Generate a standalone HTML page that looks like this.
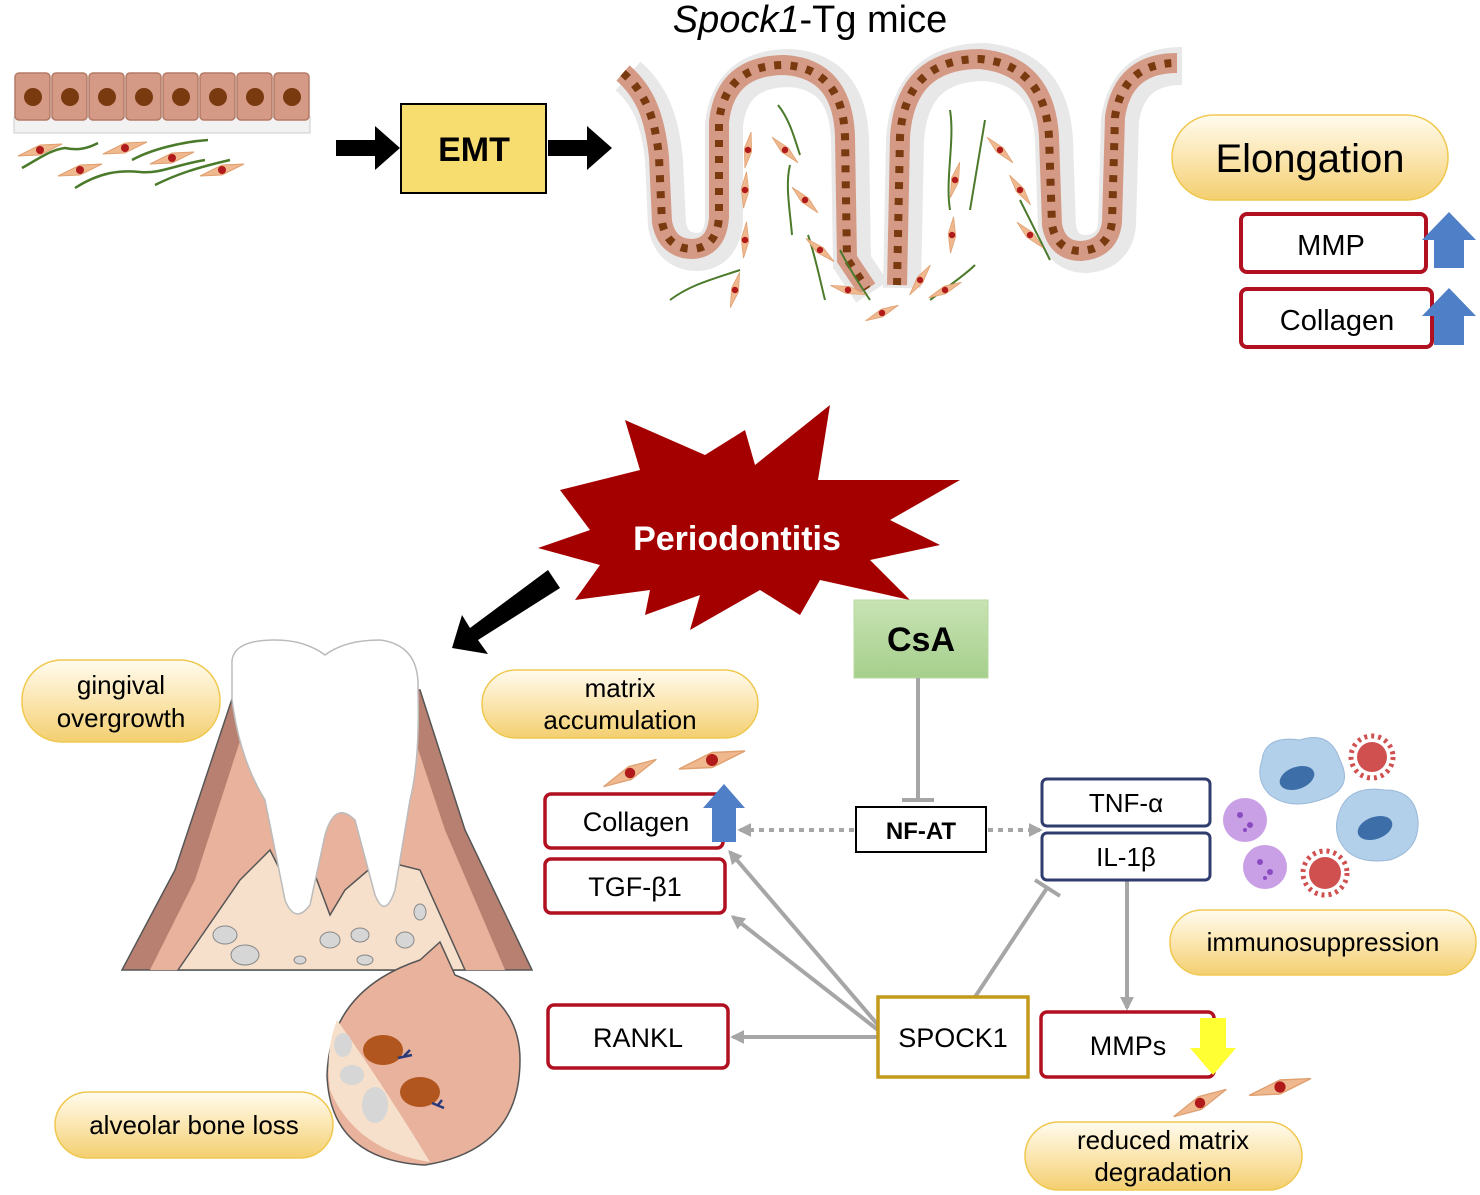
<!DOCTYPE html>
<html><head><meta charset="utf-8"><style>
body{margin:0;background:#fff;}
svg{display:block;font-family:"Liberation Sans",Arial,sans-serif;}
</style></head><body>
<svg width="1480" height="1195" viewBox="0 0 1480 1195" xmlns="http://www.w3.org/2000/svg">
<defs>
<linearGradient id="pill" x1="0" y1="0" x2="0" y2="1">
<stop offset="0" stop-color="#fffbee"/><stop offset="0.5" stop-color="#fbe6b0"/><stop offset="1" stop-color="#f3cf70"/>
</linearGradient>
<linearGradient id="green" x1="0" y1="0" x2="0" y2="1">
<stop offset="0" stop-color="#c8e3b4"/><stop offset="1" stop-color="#a6cf8c"/>
</linearGradient>
<marker id="ga2" viewBox="0 0 10 10" markerWidth="14" markerHeight="14" refX="8" refY="5" orient="auto" markerUnits="userSpaceOnUse"><path d="M0,0 L10,5 L0,10 Z" fill="#a6a6a6"/></marker>
<g id="fib"><path d="M-22,6 L0,-5 L22,-6 L0,5 Z" fill="#f0b88f" stroke="#e0a070" stroke-width="1"/><circle cx="0" cy="0" r="4" fill="#b01a1a"/></g>
</defs>

<text x="810" y="32" font-size="38" text-anchor="middle"><tspan font-style="italic">Spock1</tspan>-Tg mice</text>

<g>
<rect x="14" y="117" width="296" height="16" fill="#f2f2f2" stroke="#ccc"/>
<g fill="#d49a86" stroke="#b47a66" stroke-width="1.5">
<rect x="15" y="73" width="35" height="47" rx="4"/><rect x="52" y="73" width="35" height="47" rx="4"/>
<rect x="89" y="73" width="35" height="47" rx="4"/><rect x="126" y="73" width="35" height="47" rx="4"/>
<rect x="163" y="73" width="35" height="47" rx="4"/><rect x="200" y="73" width="35" height="47" rx="4"/>
<rect x="237" y="73" width="35" height="47" rx="4"/><rect x="274" y="73" width="35" height="47" rx="4"/>
</g>
<g fill="#7a3a10">
<circle cx="33" cy="97" r="9"/><circle cx="70" cy="97" r="9"/><circle cx="107" cy="97" r="9"/><circle cx="144" cy="97" r="9"/>
<circle cx="181" cy="97" r="9"/><circle cx="218" cy="97" r="9"/><circle cx="255" cy="97" r="9"/><circle cx="292" cy="97" r="9"/>
</g>
<g fill="none" stroke="#4a7a2a" stroke-width="2.5">
<path d="M22,168 C40,158 50,150 65,148 C75,150 85,150 98,143"/>
<path d="M75,188 C100,172 120,170 140,172 C160,174 175,165 205,160"/>
<path d="M132,160 C150,150 180,142 208,140"/>
<path d="M155,185 C175,175 195,168 230,160"/>
</g>
<use href="#fib" x="40" y="150"/><use href="#fib" x="125" y="148"/><use href="#fib" x="172" y="158"/>
<use href="#fib" x="80" y="170"/><use href="#fib" x="222" y="170"/>
</g>

<path d="M336,140 L375,140 L375,126 L400,148 L375,170 L375,156 L336,156 Z" fill="#000"/>
<path d="M548,140 L587,140 L587,126 L612,148 L587,170 L587,156 L548,156 Z" fill="#000"/>
<rect x="401" y="104" width="145" height="89" fill="#f7dc6f" stroke="#000" stroke-width="2"/>
<text x="474" y="161" font-size="34" font-weight="bold" text-anchor="middle">EMT</text>

<g fill="none" stroke-linecap="round" stroke-linejoin="round">
<path id="w1" d="M628,76 C650,95 660,120 664,160 L667,225 Q672,252 698,252 Q722,250 724,220 L724,125 Q730,68 790,68 Q848,72 850,140 L852,262 L872,292"/>
<path id="w2" d="M902,288 L905,140 Q910,62 985,62 Q1050,68 1054,140 L1057,228 Q1062,254 1086,254 Q1114,252 1117,225 L1120,120 Q1128,66 1182,66"/>
</g>
<g fill="none" stroke="#e8e8e8" stroke-width="38"><use href="#w1"/><use href="#w2"/></g>
<g fill="none" stroke="#d49a86" stroke-width="20" transform="translate(-5,-3)"><use href="#w1"/><use href="#w2"/></g>
<g fill="none" stroke="#7a3a10" stroke-width="8" stroke-dasharray="7 9" transform="translate(-5,-3)"><use href="#w1"/><use href="#w2"/></g>
<g fill="none" stroke="#4a7a2a" stroke-width="2">
<path d="M778,105 C790,120 795,140 800,155"/><path d="M790,165 C785,185 790,210 792,235"/>
<path d="M670,300 C690,285 710,280 740,270"/><path d="M808,235 C815,255 820,280 825,300"/>
<path d="M950,110 C955,140 945,180 950,210"/><path d="M985,120 C980,150 975,180 970,210"/>
<path d="M1020,200 C1030,220 1040,240 1050,260"/><path d="M930,300 C950,285 965,275 975,265"/>
<path d="M840,250 C850,270 860,285 870,300"/>
</g>
<use href="#fib" transform="translate(748,150) rotate(-65) scale(0.8)"/><use href="#fib" transform="translate(745,190) rotate(-70) scale(0.8)"/>
<use href="#fib" transform="translate(745,240) rotate(-70) scale(0.8)"/><use href="#fib" transform="translate(735,290) rotate(-60) scale(0.8)"/>
<use href="#fib" transform="translate(785,150) rotate(60) scale(0.8)"/><use href="#fib" transform="translate(805,200) rotate(60) scale(0.8)"/>
<use href="#fib" transform="translate(820,250) rotate(55) scale(0.8)"/><use href="#fib" transform="translate(848,290) rotate(30) scale(0.8)"/>
<use href="#fib" transform="translate(882,313) rotate(-10) scale(0.8)"/><use href="#fib" transform="translate(955,180) rotate(-60) scale(0.8)"/>
<use href="#fib" transform="translate(952,235) rotate(-70) scale(0.8)"/><use href="#fib" transform="translate(920,280) rotate(-40) scale(0.8)"/>
<use href="#fib" transform="translate(1000,150) rotate(60) scale(0.8)"/><use href="#fib" transform="translate(1020,190) rotate(70) scale(0.8)"/>
<use href="#fib" transform="translate(1030,235) rotate(60) scale(0.8)"/><use href="#fib" transform="translate(945,290) rotate(-10) scale(0.8)"/>

<rect x="1172" y="115" width="276" height="85" rx="42" fill="url(#pill)" stroke="#f0c850" stroke-width="1.5"/>
<text x="1310" y="172" font-size="40" text-anchor="middle">Elongation</text>
<rect x="1241" y="214" width="185" height="58" rx="6" fill="#fff" stroke="#b01020" stroke-width="4"/>
<text x="1331" y="255" font-size="29" text-anchor="middle">MMP</text>
<rect x="1241" y="289" width="191" height="58" rx="6" fill="#fff" stroke="#b01020" stroke-width="4"/>
<text x="1337" y="330" font-size="29" text-anchor="middle">Collagen</text>
<path d="M1434,268 L1434,240 L1422,240 L1449,212 L1476,240 L1464,240 L1464,268 Z" fill="#4f7fc6"/>
<path d="M1434,345 L1434,316 L1422,316 L1449,288 L1476,316 L1464,316 L1464,345 Z" fill="#4f7fc6"/>

<path d="M560,490 L640,470 L625,420 L705,455 L745,430 L755,465 L830,405 L818,480 L960,480 L890,520 L940,545 L870,560 L910,600 L820,580 L800,615 L760,590 L690,630 L700,595 L645,615 L650,590 L575,600 L600,565 L538,548 L590,530 Z" fill="#a50000"/>
<text x="737" y="550" font-size="34" font-weight="bold" fill="#fff" text-anchor="middle">Periodontitis</text>
<path d="M548,570 L560,588 L478,640 L488,654 L452,648 L462,615 L470,628 Z" fill="#000"/>

<path d="M122,970 L175,870 L235,690 L420,690 L465,830 L532,970 Z" fill="#b88070" stroke="#555" stroke-width="1.5"/>
<path d="M150,970 L195,880 L250,710 L405,710 L445,830 L505,970 Z" fill="#e9b29c"/>
<path d="M178,970 L240,880 L270,850 L300,910 L315,875 L330,915 L345,890 L380,860 L420,870 L465,970 Z" fill="#f6e0cc" stroke="#555" stroke-width="1.5"/>
<g fill="#d6d6d6" stroke="#888" stroke-width="1">
<ellipse cx="225" cy="935" rx="12" ry="9"/><ellipse cx="245" cy="955" rx="14" ry="10"/><ellipse cx="330" cy="940" rx="10" ry="8"/>
<ellipse cx="360" cy="935" rx="9" ry="7"/><ellipse cx="405" cy="940" rx="9" ry="8"/><ellipse cx="420" cy="912" rx="6" ry="8"/>
<ellipse cx="300" cy="960" rx="6" ry="4"/><ellipse cx="365" cy="960" rx="8" ry="5"/>
</g>
<path d="M232,665 Q230,640 275,640 Q305,640 325,655 Q345,640 380,640 Q420,645 418,690 Q420,760 410,800 L395,890 Q385,920 375,895 L355,820 Q335,800 325,835 L310,905 Q295,925 285,900 L265,800 Q240,760 232,700 Z" fill="#fff" stroke="#bbb" stroke-width="1.5"/>
<path d="M420,960 L440,942 L455,975 Q520,1000 520,1060 Q520,1150 425,1165 Q330,1160 327,1075 Q330,990 420,960 Z" fill="#e9b29c" stroke="#555" stroke-width="1.5"/>
<path d="M337,1020 Q380,1080 430,1162 Q355,1150 330,1090 Q325,1050 337,1020 Z" fill="#f6e0cc"/>
<g fill="#d6d6d6"><ellipse cx="343" cy="1045" rx="9" ry="12"/><ellipse cx="352" cy="1075" rx="12" ry="10"/><ellipse cx="375" cy="1105" rx="13" ry="18"/></g>
<g fill="#b0561e"><ellipse cx="383" cy="1050" rx="20" ry="15"/><ellipse cx="420" cy="1092" rx="20" ry="15"/></g>
<g stroke="#2a3a7a" stroke-width="2.5" fill="none"><path d="M398,1058 L412,1055 M404,1056 L410,1050"/><path d="M432,1103 L444,1108 M438,1105 L442,1100"/></g>

<rect x="22" y="660" width="198" height="82" rx="40" fill="url(#pill)" stroke="#f0c850" stroke-width="1.5"/>
<text x="121" y="694" font-size="26" text-anchor="middle">gingival</text>
<text x="121" y="727" font-size="26" text-anchor="middle">overgrowth</text>
<rect x="482" y="670" width="276" height="68" rx="34" fill="url(#pill)" stroke="#f0c850" stroke-width="1.5"/>
<text x="620" y="697" font-size="26" text-anchor="middle">matrix</text>
<text x="620" y="729" font-size="26" text-anchor="middle">accumulation</text>
<rect x="55" y="1092" width="278" height="66" rx="33" fill="url(#pill)" stroke="#f0c850" stroke-width="1.5"/>
<text x="194" y="1134" font-size="26" text-anchor="middle">alveolar bone loss</text>
<rect x="1170" y="910" width="306" height="65" rx="32" fill="url(#pill)" stroke="#f0c850" stroke-width="1.5"/>
<text x="1323" y="951" font-size="26" text-anchor="middle">immunosuppression</text>
<rect x="1025" y="1122" width="277" height="68" rx="34" fill="url(#pill)" stroke="#f0c850" stroke-width="1.5"/>
<text x="1163" y="1149" font-size="26" text-anchor="middle">reduced matrix</text>
<text x="1163" y="1181" font-size="26" text-anchor="middle">degradation</text>

<use href="#fib" transform="translate(630,773) rotate(-12) scale(1.3)"/>
<use href="#fib" transform="translate(712,760) scale(1.5)"/>
<use href="#fib" transform="translate(1200,1103) rotate(-12) scale(1.3)"/>
<use href="#fib" transform="translate(1280,1087) scale(1.4)"/>

<g>
<path d="M1262,760 Q1265,735 1300,740 Q1330,730 1340,760 Q1355,790 1320,800 Q1290,810 1270,795 Q1255,780 1262,760 Z" fill="#b3d0ea" stroke="#9ab8d8"/>
<ellipse cx="1297" cy="778" rx="18" ry="11" fill="#3d6ea8" transform="rotate(-20 1297 778)"/>
<path d="M1340,810 Q1350,785 1385,790 Q1415,790 1418,820 Q1420,850 1390,860 Q1355,865 1342,845 Q1332,830 1340,810 Z" fill="#b3d0ea" stroke="#9ab8d8"/>
<ellipse cx="1375" cy="828" rx="18" ry="11" fill="#3d6ea8" transform="rotate(-20 1375 828)"/>
<circle cx="1245" cy="820" r="22" fill="#c9a0e6"/><circle cx="1265" cy="867" r="22" fill="#c9a0e6"/>
<g fill="#8a4ac0"><circle cx="1240" cy="815" r="3"/><circle cx="1250" cy="825" r="3"/><circle cx="1245" cy="830" r="2"/><circle cx="1260" cy="862" r="3"/><circle cx="1270" cy="872" r="3"/><circle cx="1265" cy="878" r="2"/></g>
<circle cx="1372" cy="757" r="15" fill="#d05050"/><circle cx="1325" cy="873" r="16" fill="#d05050"/>
<circle cx="1372" cy="757" r="21" fill="none" stroke="#d05050" stroke-width="5" stroke-dasharray="3 4"/>
<circle cx="1325" cy="873" r="22" fill="none" stroke="#d05050" stroke-width="5" stroke-dasharray="3 4"/>
</g>

<rect x="854" y="600" width="134" height="78" fill="url(#green)" stroke="#b8d8a0"/>
<text x="921" y="651" font-size="34" font-weight="bold" text-anchor="middle">CsA</text>
<line x1="918" y1="678" x2="918" y2="800" stroke="#a6a6a6" stroke-width="4"/>
<line x1="902" y1="800" x2="934" y2="800" stroke="#a6a6a6" stroke-width="4"/>
<line x1="854" y1="830" x2="740" y2="830" stroke="#a6a6a6" stroke-width="4" stroke-dasharray="5 5" marker-end="url(#ga2)"/>
<line x1="988" y1="830" x2="1040" y2="830" stroke="#a6a6a6" stroke-width="4" stroke-dasharray="5 5" marker-end="url(#ga2)"/>

<line x1="878" y1="1025" x2="730" y2="852" stroke="#a6a6a6" stroke-width="4" marker-end="url(#ga2)"/>
<line x1="878" y1="1030" x2="733" y2="917" stroke="#a6a6a6" stroke-width="4" marker-end="url(#ga2)"/>
<line x1="878" y1="1037" x2="733" y2="1037" stroke="#a6a6a6" stroke-width="4" marker-end="url(#ga2)"/>
<line x1="975" y1="997" x2="1047" y2="888" stroke="#a6a6a6" stroke-width="4"/>
<line x1="1035" y1="880" x2="1060" y2="896" stroke="#a6a6a6" stroke-width="4"/>
<line x1="1127" y1="880" x2="1127" y2="1008" stroke="#a6a6a6" stroke-width="4" marker-end="url(#ga2)"/>

<rect x="856" y="807" width="130" height="45" fill="#fff" stroke="#000" stroke-width="2"/>
<text x="921" y="839" font-size="24" font-weight="bold" text-anchor="middle">NF-AT</text>

<rect x="1042" y="779" width="168" height="47" rx="5" fill="#fff" stroke="#2f3c6e" stroke-width="3"/>
<text x="1126" y="812" font-size="26" text-anchor="middle">TNF-α</text>
<rect x="1042" y="833" width="168" height="47" rx="5" fill="#fff" stroke="#2f3c6e" stroke-width="3"/>
<text x="1126" y="866" font-size="26" text-anchor="middle">IL-1β</text>

<rect x="545" y="794" width="178" height="54" rx="6" fill="#fff" stroke="#b01020" stroke-width="3.5"/>
<text x="636" y="831" font-size="27" text-anchor="middle">Collagen</text>
<path d="M712,842 L712,808 L703,808 L724,784 L745,808 L736,808 L736,842 Z" fill="#4f7fc6"/>
<rect x="545" y="859" width="180" height="54" rx="6" fill="#fff" stroke="#b01020" stroke-width="3.5"/>
<text x="635" y="896" font-size="27" text-anchor="middle">TGF-β1</text>
<rect x="548" y="1005" width="180" height="63" rx="6" fill="#fff" stroke="#b01020" stroke-width="3.5"/>
<text x="638" y="1047" font-size="27" text-anchor="middle">RANKL</text>
<rect x="878" y="997" width="150" height="80" fill="#fff" stroke="#c49a1a" stroke-width="3.5"/>
<text x="953" y="1047" font-size="27" text-anchor="middle">SPOCK1</text>
<rect x="1041" y="1012" width="173" height="65" rx="6" fill="#fff" stroke="#b01020" stroke-width="3.5"/>
<text x="1128" y="1055" font-size="27" text-anchor="middle">MMPs</text>
<path d="M1200,1018 L1200,1048 L1190,1048 L1213,1075 L1236,1048 L1226,1048 L1226,1018 Z" fill="#ffff33"/>
</svg>
</body></html>
